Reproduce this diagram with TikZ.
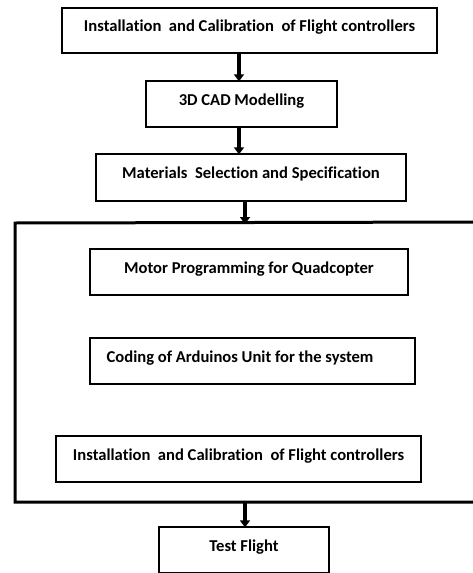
\documentclass[tikz,border=0pt]{standalone}
\usepackage{fontspec}
\setmainfont{Carlito}[Ligatures=NoCommon]
\usetikzlibrary{arrows.meta,calc}
\tikzset{
  box/.style={draw=black, line width=1.4pt, inner sep=0pt, font=\fontsize{16.6}{19}\selectfont\bfseries, text height=12pt, text depth=9.5pt},
  frame/.style={draw=black, line width=3pt},
  arr/.style={line width=3.4pt, -{Triangle[width=10pt,length=7pt]}, shorten >=-1pt}
}
\begin{document}
\begin{tikzpicture}[x=1pt,y=-1pt]
\useasboundingbox (0,0) rectangle (473,573);
\clip (0,0) rectangle (473,573);
\node[box, minimum width=375, minimum height=45] (b1) at (249.5,30.5) {Installation\ \ and\ Calibration\ \ of\ Flight controllers};
\node[box, minimum width=191, minimum height=46] (b2) at (241.5,104) {3D CAD Modelling};
\node[box, minimum width=310, minimum height=47] (b3) at (251,177.5) {Materials\ \ Selection and Specification};
\draw[frame] (15,223) -- (490,222) -- (490,502) -- (15,502) -- cycle;
\coordinate (ftop) at (245,223);
\coordinate (fbot) at (245,502);
\node[box, minimum width=318, minimum height=46] (b4) at (249,272) {Motor Programming for Quadcopter};
\node[box, minimum width=325, minimum height=46] (b5) at (252.5,361) {Coding of Arduinos Unit for the system\kern25pt};
\node[box, minimum width=365, minimum height=46] (b6) at (238.5,459) {Installation\ \ and\ Calibration\ \ of\ Flight controllers};
\node[box, minimum width=170, minimum height=46] (b7) at (244,550) {Test Flight};
\draw[arr] (b1.south -| 239,0) -- (b2.north -| 239,0);
\draw[arr] (b2.south -| 239,0) -- (b3.north -| 239,0);
\draw[arr] (b3.south -| ftop) -- (ftop);
\draw[arr] (fbot) -- (b7.north -| fbot);
\end{tikzpicture}
\end{document}
